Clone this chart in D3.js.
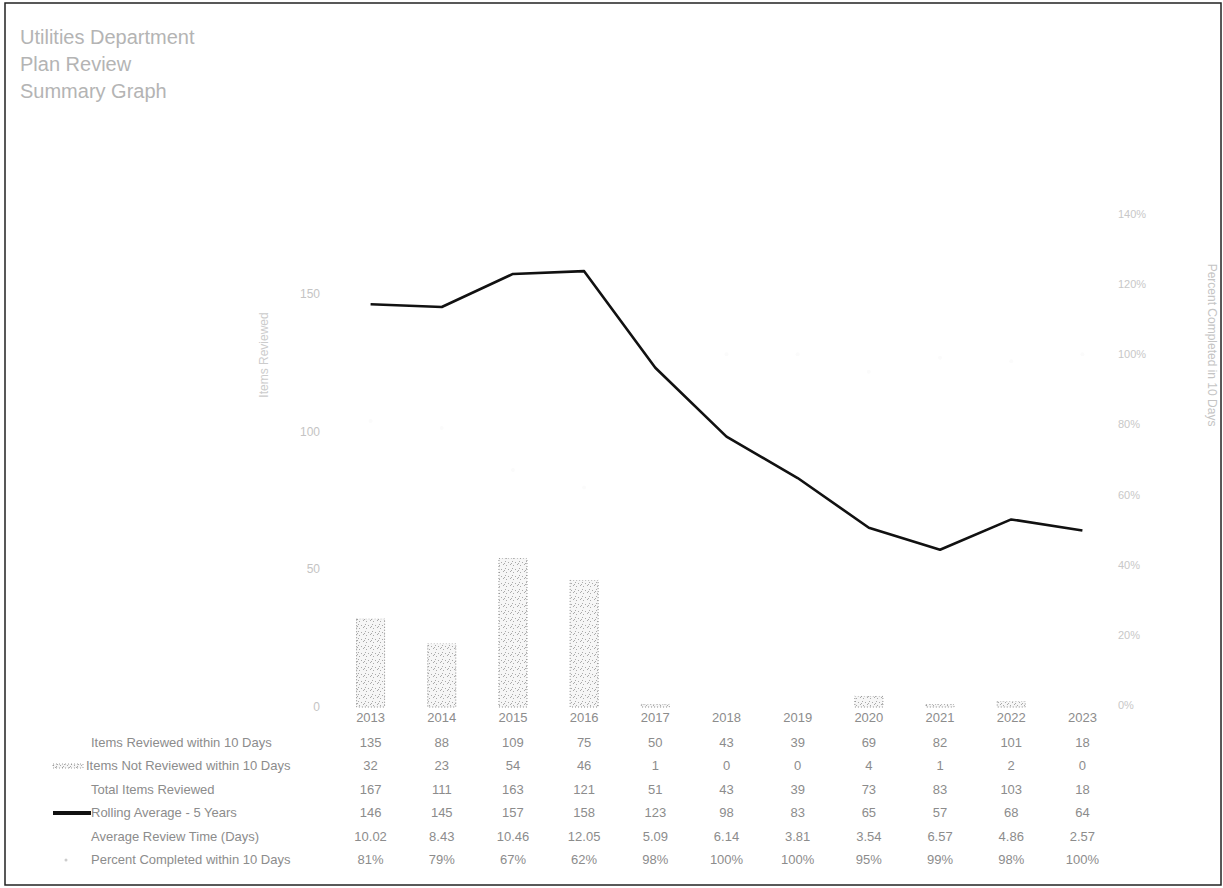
<!DOCTYPE html>
<html>
<head>
<meta charset="utf-8">
<script src="https://cdn.jsdelivr.net/npm/d3@7"></script>
<style>
  body { margin: 0; background: #fff; }
  svg { display: block; font-family: "Liberation Sans", Arial, sans-serif; }
</style>
</head>
<body>
<div id="chart"></div>
<script>
const years = ["2013","2014","2015","2016","2017","2018","2019","2020","2021","2022","2023"];
const reviewed = [135, 88, 109, 75, 50, 43, 39, 69, 82, 101, 18];
const notReviewed = [32, 23, 54, 46, 1, 0, 0, 4, 1, 2, 0];
const totals = [167, 111, 163, 121, 51, 43, 39, 73, 83, 103, 18];
const rolling = [146, 145, 157, 158, 123, 98, 83, 65, 57, 68, 64];
const avgTime = ["10.02","8.43","10.46","12.05","5.09","6.14","3.81","3.54","6.57","4.86","2.57"];
const pctDone = [81, 79, 67, 62, 98, 100, 100, 95, 99, 98, 100];
const titleLines = ["Utilities Department", "Plan Review", "Summary Graph"];
const rowLabels = ["Items Reviewed within 10 Days", "Items Not Reviewed within 10 Days",
  "Total Items Reviewed", "Rolling Average - 5 Years", "Average Review Time (Days)",
  "Percent Completed within 10 Days"];
const leftTicks = [0, 50, 100, 150];
const rightTicks = [0, 20, 40, 60, 80, 100, 120, 140];

const W = 1223, H = 888;
const grey = "#8c8c8c";
const svg = d3.select("#chart").append("svg").attr("width", W).attr("height", H);

// frame
svg.append("rect").attr("x", 5).attr("y", 3).attr("width", W - 7).attr("height", H - 6)
  .attr("fill", "none").attr("stroke", "#222").attr("stroke-width", 1.5);

// dotted fill for the bars
const defs = svg.append("defs");
const pat = defs.append("pattern").attr("id", "dots").attr("patternUnits", "userSpaceOnUse")
  .attr("width", 7).attr("height", 7);
pat.append("rect").attr("width", 7).attr("height", 7).attr("fill", "#f6f6f6");
[[1,1],[4,2],[2,5],[6,4],[0,3]].forEach(p => pat.append("rect")
  .attr("x", p[0]).attr("y", p[1]).attr("width", 1).attr("height", 1).attr("fill", "#aaa"));

svg.selectAll(".title").data(titleLines).join("text")
  .attr("class", "title")
  .attr("x", 20).attr("y", (d, i) => 44 + i * 27)
  .attr("fill", "#b4b4b4").attr("font-size", 20)
  .text(d => d);

const x = d3.scaleBand().domain(years).range([335, 1118]);
const y = d3.scaleLinear().domain([0, 178]).range([707, 216]);
const yr = d3.scaleLinear().domain([0, 140]).range([705, 214]);

const g = svg.append("g");

// left axis
g.append("g").attr("transform", "translate(322,0)")
  .call(d3.axisLeft(y).tickValues(leftTicks).tickSize(0).tickPadding(2))
  .call(a => a.select(".domain").remove())
  .call(a => a.selectAll("text").attr("fill", "#c4c4c4").attr("font-size", 12).attr("font-family", "Liberation Sans, Arial"));

// right axis
g.append("g").attr("transform", "translate(1114,0)")
  .call(d3.axisRight(yr).tickValues(rightTicks).tickFormat(d => d + "%").tickSize(0).tickPadding(4))
  .call(a => a.select(".domain").remove())
  .call(a => a.selectAll("text").attr("fill", "#c8c8c8").attr("font-size", 11).attr("font-family", "Liberation Sans, Arial"));

svg.append("text").attr("transform", "translate(268,355) rotate(-90)")
  .attr("text-anchor", "middle").attr("fill", "#cccccc").attr("font-size", 12)
  .text("Items Reviewed");
svg.append("text").attr("transform", "translate(1208,345) rotate(90)")
  .attr("text-anchor", "middle").attr("fill", "#c4c4c4").attr("font-size", 12)
  .text("Percent Completed in 10 Days");

// stacked bars: not reviewed (bottom) + reviewed (top, white in the scan)
const bw = 28;
g.selectAll(".nr").data(years).join("rect")
  .attr("class", "nr")
  .attr("x", d => x(d) + x.bandwidth() / 2 - bw / 2)
  .attr("width", bw)
  .attr("y", (d, i) => y(notReviewed[i]))
  .attr("height", (d, i) => y(0) - y(notReviewed[i]))
  .attr("fill", "url(#dots)")
  .attr("stroke", "#888").attr("stroke-width", 1).attr("stroke-dasharray", "1,2");
g.selectAll(".rv").data(years).join("rect")
  .attr("class", "rv")
  .attr("x", d => x(d) + x.bandwidth() / 2 - bw / 2)
  .attr("width", bw)
  .attr("y", (d, i) => y(notReviewed[i] + reviewed[i]))
  .attr("height", (d, i) => y(notReviewed[i]) - y(notReviewed[i] + reviewed[i]))
  .attr("fill", "#ffffff");

// percent markers (lost in the scan)
g.selectAll(".pct").data(years).join("circle")
  .attr("class", "pct")
  .attr("cx", d => x(d) + x.bandwidth() / 2)
  .attr("cy", (d, i) => yr(pctDone[i]))
  .attr("r", 2).attr("fill", "#fbfbfb");

// rolling average line
const line = d3.line()
  .x((d, i) => x(years[i]) + x.bandwidth() / 2)
  .y(d => y(d));
g.append("path").datum(rolling)
  .attr("fill", "none").attr("stroke", "#111").attr("stroke-width", 2.6)
  .attr("stroke-linejoin", "round")
  .attr("d", line);

// data table
const rowY = [743, 766, 790, 813, 837, 860];
const rows = [reviewed, notReviewed, totals, rolling, avgTime, pctDone.map(v => v + "%")];

svg.selectAll(".yr").data(years).join("text")
  .attr("class", "yr")
  .attr("x", d => x(d) + x.bandwidth() / 2).attr("y", 722)
  .attr("text-anchor", "middle").attr("fill", grey).attr("font-size", 13)
  .text(d => d);

svg.selectAll(".rl").data(rowLabels).join("text")
  .attr("class", "rl")
  .attr("x", (d, i) => i === 1 ? 86 : 91).attr("y", (d, i) => rowY[i] + 4)
  .attr("fill", grey).attr("font-size", 13)
  .text(d => d);

rows.forEach((r, ri) => {
  svg.selectAll(".c" + ri).data(r).join("text")
    .attr("class", "c" + ri)
    .attr("x", (d, i) => x(years[i]) + x.bandwidth() / 2).attr("y", rowY[ri] + 4)
    .attr("text-anchor", "middle").attr("fill", grey).attr("font-size", 13)
    .text(d => d);
});

// legend keys
svg.append("rect").attr("x", 53).attr("y", rowY[1] - 2).attr("width", 30).attr("height", 4)
  .attr("fill", "url(#dots)").attr("stroke", "#888").attr("stroke-width", 0.8).attr("stroke-dasharray", "1,2");
svg.append("line").attr("x1", 53).attr("x2", 91).attr("y1", rowY[3]).attr("y2", rowY[3])
  .attr("stroke", "#111").attr("stroke-width", 4);
svg.append("circle").attr("cx", 66).attr("cy", rowY[5]).attr("r", 1.5).attr("fill", "#ccc");
</script>
</body>
</html>
